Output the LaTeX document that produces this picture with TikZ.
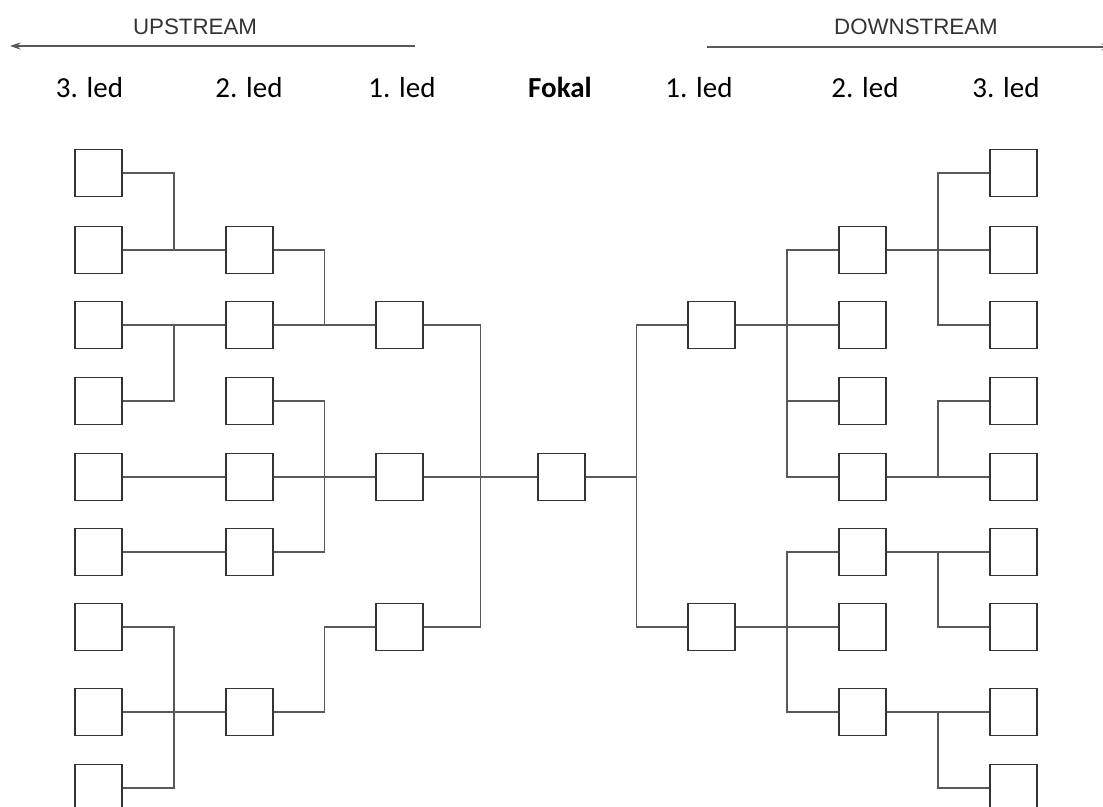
\documentclass[tikz,border=0pt]{standalone}
\usepackage{fontspec}
\setmainfont{Carlito}
\newfontfamily\headfont{Liberation Sans}
\usetikzlibrary{arrows.meta, calc}

\begin{document}
\begin{tikzpicture}[x=0.02cm, y=-0.02cm, >=Stealth,
  box/.style={draw=black!80, line width=0.8pt, minimum size=0.94cm, inner sep=0pt, fill=white},
  link/.style={draw=black!65, line width=0.6pt},
  elbow/.style={to path={-| ($(\tikztostart)!.5!(\tikztotarget)$) |- (\tikztotarget)}},
  lvl/.style={font=\fontsize{16.5}{18}\selectfont, anchor=base},
  dir/.style={font=\headfont\fontsize{12.7}{14}\selectfont, text=black!80, anchor=base}
]
  \useasboundingbox (0,0) rectangle (1103,807);
  \clip (0,0) rectangle (1103,807);

  % direction arrows
  \node[dir] (up) at (195,35) {UPSTREAM};
  \node[dir] (down) at (916,35) {DOWNSTREAM};
  \coordinate (upTail) at (415,46);
  \coordinate (upTip) at (10,46);
  \coordinate (downTail) at (707,47);
  \coordinate (downTip) at (1112,47);
  \draw[link, -{Stealth[length=6pt,width=4pt]}] (upTail) -- (upTip);
  \draw[link, -{Stealth[length=6pt,width=4pt]}] (downTail) -- (downTip);

  % level labels
  \node[lvl] (lbU3) at (89.5,98) {3. led};
  \node[lvl] (lbU2) at (249,98) {2. led};
  \node[lvl] (lbU1) at (402,98) {1. led};
  \node[lvl] (lbF) at (560,98) {\textbf{Fokal}};
  \node[lvl] (lbD1) at (699,98) {1. led};
  \node[lvl] (lbD2) at (865,98) {2. led};
  \node[lvl] (lbD3) at (1006,98) {3. led};

  % boxes, outer columns
  \foreach \n/\y in {a/173,b/250,c/325,d/401,e/477,f/552,g/627,h/712,i/788} {
    \node[box] (U3\n) at (98.5,\y) {};
    \node[box] (D3\n) at (1013.5,\y) {};
  }
  % upstream 2. and 1. level
  \foreach \n/\y in {a/250,b/325,c/401,d/477,e/552,f/712}
    \node[box] (U2\n) at (249.5,\y) {};
  \node[box] (U1a) at (399.5,325) {};
  \node[box] (U1b) at (399.5,477) {};
  \node[box] (U1c) at (399.5,627) {};
  % focal
  \node[box] (F) at (561.5,477) {};
  % downstream 1. and 2. level
  \node[box] (D1a) at (711.5,325) {};
  \node[box] (D1b) at (711.5,627) {};
  \foreach \n/\y in {a/250,b/325,c/401,d/477,e/552,f/627,g/712}
    \node[box] (D2\n) at (862.5,\y) {};

  % upstream links
  \draw[link] (U3a.east) to[elbow] (U2a.west);
  \draw[link] (U3b.east) to[elbow] (U2a.west);
  \draw[link] (U3c.east) to[elbow] (U2b.west);
  \draw[link] (U3d.east) to[elbow] (U2b.west);
  \draw[link] (U3e.east) to[elbow] (U2d.west);
  \draw[link] (U3f.east) to[elbow] (U2e.west);
  \draw[link] (U3g.east) to[elbow] (U2f.west);
  \draw[link] (U3h.east) to[elbow] (U2f.west);
  \draw[link] (U3i.east) to[elbow] (U2f.west);
  \draw[link] (U2a.east) to[elbow] (U1a.west);
  \draw[link] (U2b.east) to[elbow] (U1a.west);
  \draw[link] (U2c.east) to[elbow] (U1b.west);
  \draw[link] (U2d.east) to[elbow] (U1b.west);
  \draw[link] (U2e.east) to[elbow] (U1b.west);
  \draw[link] (U2f.east) to[elbow] (U1c.west);
  \draw[link] (U1a.east) to[elbow] (F.west);
  \draw[link] (U1b.east) to[elbow] (F.west);
  \draw[link] (U1c.east) to[elbow] (F.west);

  % downstream links
  \draw[link] (F.east) to[elbow] (D1a.west);
  \draw[link] (F.east) to[elbow] (D1b.west);
  \draw[link] (D1a.east) to[elbow] (D2a.west);
  \draw[link] (D1a.east) to[elbow] (D2b.west);
  \draw[link] (D1a.east) to[elbow] (D2c.west);
  \draw[link] (D1a.east) to[elbow] (D2d.west);
  \draw[link] (D1b.east) to[elbow] (D2e.west);
  \draw[link] (D1b.east) to[elbow] (D2f.west);
  \draw[link] (D1b.east) to[elbow] (D2g.west);
  \draw[link] (D2a.east) to[elbow] (D3a.west);
  \draw[link] (D2a.east) to[elbow] (D3b.west);
  \draw[link] (D2a.east) to[elbow] (D3c.west);
  \draw[link] (D2d.east) to[elbow] (D3d.west);
  \draw[link] (D2d.east) to[elbow] (D3e.west);
  \draw[link] (D2e.east) to[elbow] (D3f.west);
  \draw[link] (D2e.east) to[elbow] (D3g.west);
  \draw[link] (D2g.east) to[elbow] (D3h.west);
  \draw[link] (D2g.east) to[elbow] (D3i.west);
\end{tikzpicture}
\end{document}
